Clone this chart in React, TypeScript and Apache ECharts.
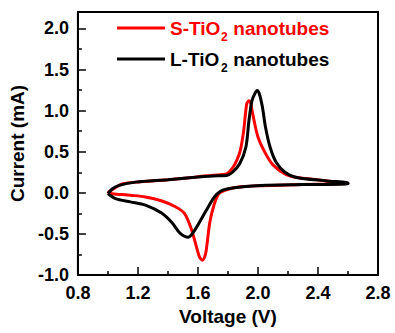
import React, { useEffect, useRef } from "react";
import * as echarts from "echarts";

const sLabel = ["S-TiO", "2", " nanotubes"];
const lLabel = ["L-TiO", "2", " nanotubes"];

// S-TiO2 nanotubes (red): [voltage V, current mA]
const sCurve: number[][] = [
  [1.0, 0.0], [1.03, -0.01], [1.15, -0.03], [1.25, -0.05], [1.36, -0.1], [1.45, -0.17],
  [1.51, -0.25], [1.55, -0.41], [1.58, -0.59], [1.61, -0.78], [1.63, -0.82], [1.65, -0.75],
  [1.66, -0.63], [1.68, -0.35], [1.71, -0.13], [1.74, -0.01], [1.78, 0.03], [1.85, 0.065],
  [2.0, 0.085], [2.2, 0.095], [2.4, 0.105], [2.6, 0.115],
  [2.6, 0.12], [2.46, 0.145], [2.34, 0.17], [2.25, 0.19], [2.18, 0.23], [2.1, 0.34],
  [2.05, 0.48], [2.0, 0.68], [1.965, 0.96], [1.95, 1.1], [1.94, 1.12], [1.925, 1.08],
  [1.905, 0.76], [1.883, 0.52], [1.86, 0.4], [1.83, 0.3], [1.79, 0.23], [1.7, 0.215],
  [1.58, 0.19], [1.4, 0.16], [1.185, 0.13], [1.1, 0.11], [1.075, 0.09], [1.03, 0.04], [1.0, 0.0],
];

// L-TiO2 nanotubes (black)
const lCurve: number[][] = [
  [1.0, -0.01], [1.05, -0.07], [1.15, -0.11], [1.25, -0.15], [1.36, -0.25], [1.43, -0.37],
  [1.48, -0.49], [1.535, -0.54], [1.58, -0.45], [1.65, -0.23], [1.71, -0.05], [1.75, 0.02],
  [1.8, 0.05], [1.9, 0.075], [2.02, 0.09], [2.3, 0.1], [2.6, 0.11],
  [2.6, 0.12], [2.46, 0.145], [2.25, 0.19], [2.18, 0.25], [2.12, 0.375], [2.08, 0.56],
  [2.05, 0.8], [2.03, 1.04], [2.01, 1.2], [1.995, 1.245], [1.98, 1.21], [1.96, 1.12],
  [1.94, 0.88], [1.92, 0.56], [1.88, 0.36], [1.83, 0.25], [1.79, 0.21], [1.7, 0.205],
  [1.58, 0.19], [1.4, 0.16], [1.185, 0.13], [1.075, 0.09], [1.03, 0.05], [1.0, -0.01],
];

const FONT = "'Liberation Sans', Arial, sans-serif";

export default function App() {
  const ref = useRef<HTMLDivElement>(null);
  useEffect(() => {
    const chart = echarts.init(ref.current!, null, { renderer: "svg" });
    const legendItem = (parts: string[], color: string, y: number) => [
      { type: "line", shape: { x1: 117, y1: y, x2: 165, y2: y }, style: { stroke: color, lineWidth: 3 } },
      { type: "text", x: 170, y, style: { text: parts[0], fill: color, fontSize: 19, fontWeight: "bold", fontFamily: FONT, verticalAlign: "middle" } },
      { type: "text", x: 221, y: y + 9, style: { text: parts[1], fill: color, fontSize: 12, fontWeight: "bold", fontFamily: FONT, verticalAlign: "middle" } },
      { type: "text", x: 228, y, style: { text: parts[2], fill: color, fontSize: 19, fontWeight: "bold", fontFamily: FONT, verticalAlign: "middle" } },
    ];
    chart.setOption({
      animation: false,
      grid: {
        left: 77, right: 17, top: 12, bottom: 58,
        show: true, borderColor: "#000", borderWidth: 2, backgroundColor: "transparent",
      },
      xAxis: {
        type: "value", min: 0.8, max: 2.8, interval: 0.4,
        name: "Voltage (V)", nameLocation: "middle", nameGap: 27,
        nameTextStyle: { fontSize: 19, fontWeight: "bold", fontFamily: FONT, color: "#000" },
        axisLine: { show: true, onZero: false, lineStyle: { color: "#000", width: 2 } },
        axisTick: { show: true, inside: true, length: 8, lineStyle: { color: "#000", width: 1.5 } },
        minorTick: { show: true, splitNumber: 2, length: 4, lineStyle: { color: "#000", width: 1.5 } },
        splitLine: { show: false },
        axisLabel: { fontSize: 18, fontWeight: "bold", fontFamily: FONT, color: "#000", margin: 9, formatter: (v: number) => v.toFixed(1) },
      },
      yAxis: {
        type: "value", min: -1.0, max: 2.2, interval: 0.5,
        name: "Current (mA)", nameLocation: "middle", nameGap: 44,
        nameTextStyle: { fontSize: 19, fontWeight: "bold", fontFamily: FONT, color: "#000" },
        axisLine: { show: true, onZero: false, lineStyle: { color: "#000", width: 2 } },
        axisTick: { show: true, inside: true, length: 8, lineStyle: { color: "#000", width: 1.5 } },
        minorTick: { show: true, splitNumber: 2, length: 4, lineStyle: { color: "#000", width: 1.5 } },
        splitLine: { show: false },
        axisLabel: { fontSize: 18, fontWeight: "bold", fontFamily: FONT, color: "#000", margin: 9, showMaxLabel: false, formatter: (v: number) => v.toFixed(1) },
      },
      series: [
        { name: sLabel.join(""), type: "line", data: sCurve, showSymbol: false, smooth: 0.3, lineStyle: { color: "#ff0000", width: 3 }, itemStyle: { color: "#ff0000" } },
        { name: lLabel.join(""), type: "line", data: lCurve, showSymbol: false, smooth: 0.3, lineStyle: { color: "#000000", width: 3 }, itemStyle: { color: "#000" } },
      ],
      graphic: [...legendItem(sLabel, "#ff0000", 28), ...legendItem(lLabel, "#000000", 59)],
    });
    return () => chart.dispose();
  }, []);
  return <div ref={ref} style={{ width: 395, height: 333, position: "absolute", left: 0, top: 0 }} />;
}
